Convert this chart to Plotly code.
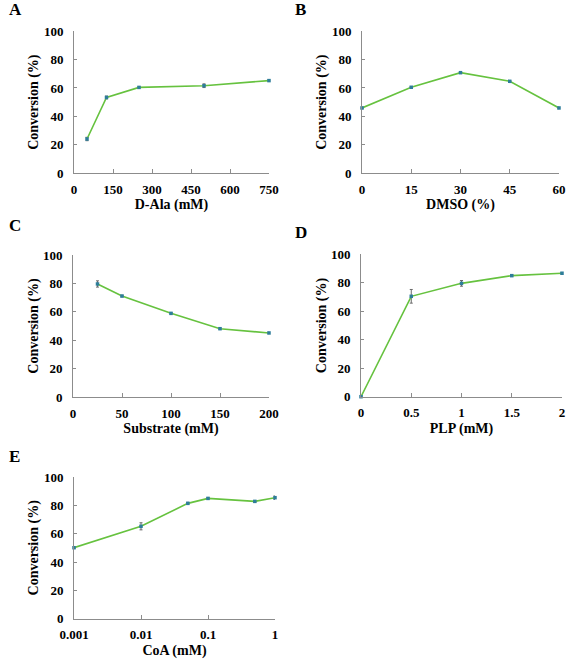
import plotly.graph_objects as go

# Panel A
a_x = [50, 125, 250, 500, 750]
a_y = [24.0, 53.3, 60.4, 61.6, 65.2]
a_err = [1.2, 1.0, 0.4, 1.3, 0.5]
# Panel B
b_x = [0, 15, 30, 45, 60]
b_y = [45.9, 60.5, 70.8, 64.7, 45.9]
b_err = [0.5, 0.5, 0.5, 0.5, 0.5]
# Panel C
c_x = [25, 50, 100, 150, 200]
c_y = [79.6, 71.1, 58.9, 48.1, 45.1]
c_err = [2.2, 0.5, 0.5, 0.5, 0.5]
# Panel D
d_x = [0, 0.5, 1, 1.5, 2]
d_y = [0.0, 70.5, 79.6, 85.0, 86.7]
d_err = [0.3, 4.8, 2.0, 0.5, 0.5]
# Panel E
e_x = [0.001, 0.01, 0.05, 0.1, 0.5, 1]
e_y = [50.1, 65.2, 81.4, 84.9, 82.8, 85.4]
e_err = [0.5, 2.5, 0.7, 0.5, 0.6, 1.2]

y_ticks = [0, 20, 40, 60, 80, 100]
a_ticks = [0, 150, 300, 450, 600, 750]
b_ticks = [0, 15, 30, 45, 60]
c_ticks = [0, 50, 100, 150, 200]
d_ticks = [0, 0.5, 1, 1.5, 2]
e_ticks = [0.001, 0.01, 0.1, 1]
e_ticklabels = ["0.001", "0.01", "0.1", "1"]

panels = [
    ("A", a_x, a_y, a_err, "D-Ala (mM)", a_ticks, None, [0, 750], "linear",
     [74, 269], [31.3, 173]),
    ("B", b_x, b_y, b_err, "DMSO (%)", b_ticks, None, [0, 60], "linear",
     [362, 559], [31.3, 173]),
    ("C", c_x, c_y, c_err, "Substrate (mM)", c_ticks, None, [0, 200], "linear",
     [73, 269], [255, 397]),
    ("D", d_x, d_y, d_err, "PLP (mM)", d_ticks, None, [0, 2], "linear",
     [361, 562], [254.3, 396.7]),
    ("E", e_x, e_y, e_err, "CoA (mM)", e_ticks, e_ticklabels, [-3, 0], "log",
     [74, 275], [477, 618.7]),
]

W, H = 567, 659
fig = go.Figure()
font_fam = "Liberation Serif"
axis_col = "#8c8c8c"
layout = {}
annotations = []
for i, (lab, xs, ys, errs, xtitle, xt, xtl, xr, xtype, xpx, ypx) in enumerate(panels):
    n = "" if i == 0 else str(i + 1)
    fig.add_trace(go.Scatter(
        x=xs, y=ys, mode="lines+markers",
        line=dict(color="#66c23f", width=1.6),
        marker=dict(color="#2e7d9a", size=3.5, symbol="square"),
        error_y=dict(type="data", array=errs, visible=True, color="#6a6a6a",
                     thickness=1, width=1.5),
        xaxis="x" + n, yaxis="y" + n, cliponaxis=False, showlegend=False,
    ))
    xdom = [xpx[0] / W, xpx[1] / W]
    ydom = [1 - ypx[1] / H, 1 - ypx[0] / H]
    xa = dict(
        domain=xdom, range=xr, type=xtype, anchor="y" + n, automargin=False,
        tickvals=xt, ticktext=xtl if xtl else [str(v) for v in xt],
        ticks="inside", ticklen=4, tickcolor=axis_col, ticklabelstandoff=4,
        showline=True, linecolor=axis_col, linewidth=1,
        showgrid=False, zeroline=False,
        tickfont=dict(family=font_fam, size=13, color="black", weight="bold"),
        title=dict(text="<b>" + xtitle + "</b>", standoff=3,
                   font=dict(family=font_fam, size=14, color="black")),
    )
    ya = dict(
        domain=ydom, range=[0, 100], anchor="x" + n, automargin=False,
        tickvals=y_ticks, ticks="inside", ticklen=3, tickcolor=axis_col,
        ticklabelstandoff=7,
        showline=True, linecolor=axis_col, linewidth=1,
        showgrid=False, zeroline=False,
        tickfont=dict(family=font_fam, size=13, color="black", weight="bold"),
        title=dict(text="<b>Conversion (%)</b>", standoff=1,
                   font=dict(family=font_fam, size=14, color="black")),
    )
    layout["xaxis" + n] = xa
    layout["yaxis" + n] = ya
    lx = 7 if lab in ("A", "C", "E") else 293
    ly = {"A": 10, "B": 10, "C": 225, "D": 232, "E": 456}[lab]
    annotations.append(dict(
        text="<b>" + lab + "</b>", x=lx / W, y=1 - ly / H, xref="paper", yref="paper",
        xanchor="left", yanchor="middle", showarrow=False,
        font=dict(family=font_fam, size=17, color="black"),
    ))

fig.update_layout(
    width=W, height=H, margin=dict(l=0, r=0, t=0, b=0, autoexpand=False),
    paper_bgcolor="white", plot_bgcolor="white",
    annotations=annotations, **layout,
)
fig.write_html(
    "out.html",
    config={"displayModeBar": False},
    post_script="document.body.style.margin='0';document.body.style.padding='0';"
                "document.body.style.overflow='hidden';",
)
